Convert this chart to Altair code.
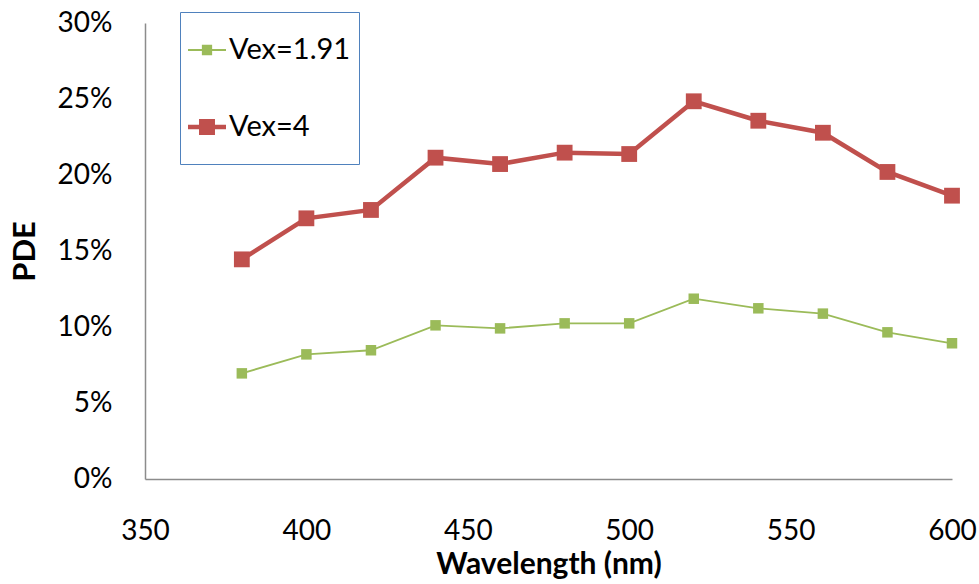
import altair as alt
import pandas as pd

# Photon detection efficiency vs wavelength at two excess voltages
wavelength = [380, 400, 420, 440, 460, 480, 500, 520, 540, 560, 580, 600]
pde_vex_191 = [0.0695, 0.082, 0.0847, 0.1011, 0.0991, 0.1024, 0.1024, 0.1186, 0.1123, 0.1088, 0.0965, 0.0893]
pde_vex_4 = [0.1445, 0.1715, 0.177, 0.2114, 0.2072, 0.2147, 0.2138, 0.2485, 0.2357, 0.2278, 0.202, 0.1864]
series_names = ["Vex=1.91", "Vex=4"]
series_colors = ["#9bbb59", "#c0504d"]
line_widths = [1.8, 4.5]
marker_sizes = [110, 250]
x_ticks = [350, 400, 450, 500, 550, 600]
y_ticks = [0, 0.05, 0.10, 0.15, 0.20, 0.25, 0.30]

rows = []
for name, vals in zip(series_names, [pde_vex_191, pde_vex_4]):
    for w, v in zip(wavelength, vals):
        rows.append({"wavelength": w, "pde": v, "series": name})
df = pd.DataFrame(rows)

FONT = "Lato"


def line_marker_path(half_line, half_square, pad=1.5):
    """Legend glyph: a horizontal bar with a square marker in the middle."""
    return (
        f"M-1,-{pad}"
        f"M-1,-{half_line}H-{half_square}V-{half_square}H{half_square}V-{half_line}"
        f"H1V{half_line}H{half_square}V{half_square}H-{half_square}V{half_line}H-1Z"
        f"M1,{pad}"
    )


legend_paths = [line_marker_path(0.055, 0.27), line_marker_path(0.12, 0.42)]

color_scale = alt.Scale(domain=series_names, range=series_colors)

x_enc = alt.X(
    "wavelength:Q",
    scale=alt.Scale(domain=[350, 600], nice=False),
    axis=alt.Axis(
        values=x_ticks, title="Wavelength (nm)", grid=False, ticks=False,
        domainColor="#8c8c8c", domainWidth=1.5, labelPadding=38,
        labelFlush=False, titlePadding=4, titleFontSize=30,
    ),
)
y_enc = alt.Y(
    "pde:Q",
    scale=alt.Scale(domain=[0, 0.30], nice=False),
    axis=alt.Axis(
        values=y_ticks, format=".0%", title="PDE", grid=False, ticks=False,
        domainColor="#8c8c8c", domainWidth=1.5, labelPadding=33,
        labelFlush=False, titlePadding=16,
    ),
)

# empty layer that only carries the legend (colour + line/marker glyph)
legend_layer = (
    alt.Chart(df)
    .transform_filter("false")
    .mark_point(filled=True, opacity=1, size=1444, strokeWidth=0)
    .encode(
        x=x_enc,
        y=y_enc,
        color=alt.Color(
            "series:N",
            scale=color_scale,
            sort=series_names,
            legend=alt.Legend(
                title=" ",
                titleFontSize=6,
                titlePadding=5,
                orient="none",
                legendX=35,
                legendY=-11,
                symbolSize=1444,
                symbolStrokeWidth=0,
                symbolOpacity=1,
                labelFontSize=29,
                labelFont=FONT,
                labelColor="#000000",
                labelOffset=3,
                rowPadding=19,
                padding=8,
                strokeColor="#4f81bd",
                fillColor="white",
            ),
        ),
        shape=alt.Shape(
            "series:N",
            scale=alt.Scale(domain=series_names, range=legend_paths),
            sort=series_names,
        ),
    )
)

layers = [legend_layer]
for name, lw, ms in zip(series_names, line_widths, marker_sizes):
    sub = alt.Chart(df).transform_filter(alt.datum.series == name)
    layers.append(
        sub.mark_line(strokeWidth=lw).encode(
            x="wavelength:Q",
            y="pde:Q",
            color=alt.Color("series:N", scale=color_scale, legend=None),
        )
    )
    layers.append(
        sub.mark_point(shape="square", filled=True, opacity=1, size=ms).encode(
            x="wavelength:Q",
            y="pde:Q",
            color=alt.Color("series:N", scale=color_scale, legend=None),
        )
    )

chart = (
    alt.layer(*layers)
    .properties(
        width=807,
        height=456,
        padding={"left": 145, "top": 23, "right": 27, "bottom": 105},
        autosize=alt.AutoSizeParams(type="none"),
        background="white",
    )
    .configure_view(stroke=None)
    .configure_axis(
        labelFont=FONT,
        labelFontSize=28,
        labelColor="#000000",
        titleFont=FONT,
        titleFontSize=31,
        titleFontWeight="bold",
        titleColor="#000000",
    )
)

chart.save("out.html", embed_options={"renderer": "svg", "actions": False})
